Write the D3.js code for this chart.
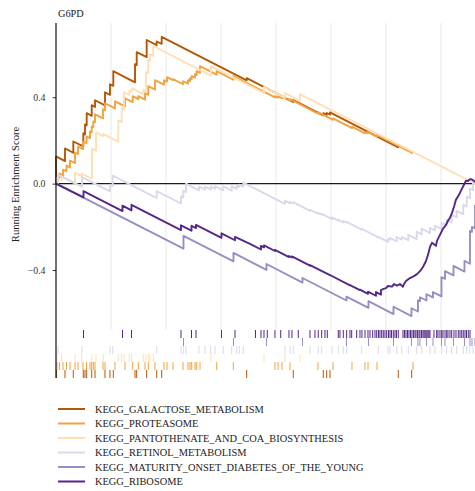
<!DOCTYPE html>
<html>
<head>
<meta charset="utf-8">
<script src="https://cdn.jsdelivr.net/npm/d3@7"></script>
<style>
  html, body { margin: 0; padding: 0; background: #fff; overflow: hidden; }
  svg { display: block; font-family: "Liberation Serif", "Times New Roman", serif; }
</style>
</head>
<body>
<svg id="chart" width="475" height="491"></svg>
<script>
// ---- data -------------------------------------------------------------
const plotTitle = "G6PD";
const yTitle = "Running Enrichment Score";
const geneCount = 19136;                 // length of the ranked gene list
const gridBreaks = [2500, 5000, 7500, 10000, 12500, 15000, 17500];
const yTicks = [-0.4, 0, 0.4];

const setNames = [
  "KEGG_GALACTOSE_METABOLISM",
  "KEGG_PROTEASOME",
  "KEGG_PANTOTHENATE_AND_COA_BIOSYNTHESIS",
  "KEGG_RETINOL_METABOLISM",
  "KEGG_MATURITY_ONSET_DIABETES_OF_THE_YOUNG",
  "KEGG_RIBOSOME"
];
const setColors = ["#b35806", "#f1a340", "#fee0b6", "#d8daeb", "#998ec3", "#542788"];

// running enrichment score: [rank, score before step, score after step]
const esGalactose = [
  [0,0,0.126],[409,0.104,0.163],[786,0.143,0.195],[1241,0.172,0.233],[1318,0.228,0.274],
  [1395,0.270,0.326],[1623,0.314,0.363],[1773,0.355,0.386],[2227,0.362,0.423],[2454,0.411,0.460],
  [2604,0.453,0.521],[3591,0.469,0.553],[3668,0.549,0.609],[4122,0.586,0.665],[4577,0.641,0.658],
  [4804,0.647,0.679],[8667,0.478,0.488],[10785,0.378,0.387],[12149,0.316,0.326],[12303,0.318,0.327],
  [12453,0.320,0.330],[15558,0.168,0.179],[16167,0.147,0.153]
];
const esProteasome = [
  [0,0,0],[45,0,0.028],[159,0.022,0.047],[318,0.038,0.065],[477,0.057,0.084],[636,0.075,0.107],
  [864,0.095,0.144],[1000,0.137,0.172],[1227,0.160,0.195],[1386,0.187,0.219],[1545,0.210,0.242],
  [1623,0.238,0.265],[1695,0.261,0.288],[1773,0.284,0.321],[2136,0.302,0.344],[2227,0.340,0.372],
  [2682,0.348,0.381],[3136,0.358,0.395],[3486,0.377,0.405],[3741,0.391,0.405],[4045,0.389,0.419],
  [4195,0.411,0.451],[4500,0.435,0.479],[4909,0.458,0.479],[5045,0.472,0.493],[5318,0.479,0.484],
  [5773,0.460,0.474],[6000,0.463,0.479],[6091,0.474,0.488],[6168,0.484,0.498],[6318,0.490,0.507],
  [6395,0.503,0.521],[6545,0.513,0.544],[7304,0.505,0.521],[8059,0.481,0.498],[9954,0.399,0.405],
  [10091,0.398,0.405],[10273,0.395,0.402],[10636,0.383,0.391],[11909,0.324,0.331],[12591,0.295,0.302],
  [13454,0.257,0.264],[14045,0.233,0.240],[14182,0.233,0.240],[14591,0.219,0.226],[16227,0.140,0.140]
];
const esPantothenate = [
  [0,0,0],[45,0,0.028],[259,0.017,0.033],[864,0.001,0.051],[1168,0.035,0.047],[1636,0.022,0.163],
  [1818,0.153,0.237],[2150,0.220,0.230],[2832,0.194,0.293],[2986,0.285,0.349],[3091,0.343,0.423],
  [3331,0.411,0.430],[3441,0.425,0.442],[3968,0.414,0.433],[4091,0.426,0.516],[4195,0.511,0.572],
  [4272,0.568,0.600],[4422,0.592,0.637],[7045,0.500,0.544],[9454,0.419,0.447],[10408,0.397,0.419],
  [11090,0.383,0.414],[19045,0,0]
];
const esRetinol = [
  [0,0,0],[91,0,0.042],[1182,-0.015,0.030],[2454,-0.036,-0.005],[2577,-0.011,0.037],
  [4577,-0.067,-0.035],[5681,-0.092,-0.058],[5786,-0.064,-0.033],[5909,-0.039,0],[6500,-0.031,-0.014],
  [6772,-0.028,-0.014],[7031,-0.027,-0.014],[7227,-0.024,-0.012],[7604,-0.031,-0.012],[7986,-0.032,-0.012],
  [8213,-0.024,-0.009],[8331,-0.015,-0.005],[8513,-0.014,0.005],[10408,-0.094,-0.079],[10636,-0.091,-0.084],
  [10785,-0.092,-0.086],[11545,-0.126,-0.121],[11922,-0.140,-0.135],[12076,-0.144,-0.140],[12545,-0.164,-0.156],
  [12831,-0.171,-0.167],[13058,-0.180,-0.172],[13212,-0.180,-0.177],[13894,-0.213,-0.209],[14649,-0.249,-0.247],
  [15090,-0.270,-0.256],[15181,-0.260,-0.251],[15486,-0.267,-0.247],[15713,-0.259,-0.247],[16013,-0.262,-0.237],
  [16395,-0.257,-0.223],[16622,-0.235,-0.209],[16999,-0.229,-0.205],[17226,-0.217,-0.195],[17531,-0.211,-0.181],
  [17758,-0.193,-0.167],[17985,-0.180,-0.144],[18212,-0.156,-0.126],[18512,-0.141,-0.098],[18667,-0.106,-0.060],
  [18817,-0.068,-0.023],[18954,-0.030,0.009],[19136,0,0]
];
const esMaturity = [
  [0,0,0],[5795,-0.301,-0.242],[8067,-0.360,-0.321],[9567,-0.399,-0.372],[11204,-0.458,-0.437],
  [13203,-0.541,-0.523],[14203,-0.575,-0.544],[15340,-0.604,-0.570],[16158,-0.613,-0.577],[16453,-0.592,-0.540],
  [16544,-0.544,-0.526],[16840,-0.541,-0.512],[17135,-0.527,-0.502],[17521,-0.522,-0.433],[17681,-0.441,-0.405],
  [18067,-0.425,-0.381],[18567,-0.407,-0.358],[18817,-0.371,-0.219],[18908,-0.223,-0.200],[19045,-0.207,-0.102],
  [19136,-0.107,0]
];
const esRibosome = [
  [0,0,0],[1250,-0.064,-0.035],[3022,-0.127,-0.102],[3431,-0.124,-0.098],[5681,-0.215,-0.193],
  [6159,-0.218,-0.195],[6363,-0.206,-0.191],[7522,-0.251,-0.230],[8136,-0.262,-0.247],[8818,-0.279,-0.279],
  [9317,-0.305,-0.288],[9454,-0.295,-0.286],[9954,-0.312,-0.307],[10590,-0.340,-0.335],[10726,-0.342,-0.337],
  [11544,-0.380,-0.377],[12453,-0.424,-0.423],[13362,-0.471,-0.470],[13817,-0.493,-0.491],[14180,-0.510,-0.500],
  [14544,-0.519,-0.502],[14771,-0.514,-0.493],[14862,-0.488,-0.488],[14999,-0.484,-0.484],[15090,-0.474,-0.474],
  [15271,-0.477,-0.477],[15362,-0.465,-0.465],[15498,-0.472,-0.472],[15635,-0.465,-0.465],[15771,-0.477,-0.477],
  [15817,-0.465,-0.465],[15908,-0.451,-0.451],[16089,-0.437,-0.437],[16271,-0.428,-0.428],[16407,-0.419,-0.419],
  [16544,-0.405,-0.405],[16680,-0.386,-0.386],[16817,-0.358,-0.358],[16908,-0.330,-0.330],[16999,-0.293,-0.293],
  [17090,-0.274,-0.274],[17271,-0.288,-0.288],[17317,-0.265,-0.265],[17453,-0.237,-0.237],[17590,-0.209,-0.209],
  [17726,-0.191,-0.191],[17817,-0.172,-0.172],[17908,-0.158,-0.158],[17999,-0.135,-0.135],[18090,-0.107,-0.107],
  [18181,-0.074,-0.074],[18272,-0.060,-0.060],[18363,-0.042,-0.042],[18453,-0.023,-0.023],[18544,-0.005,-0.005],
  [18635,0.014,0.014],[18726,0.012,0.012],[18817,0.021,0.021],[18908,0.019,0.019],[19045,0.009,0.009],[19136,0,0]
];

// ranks of the member genes of each set (rug)
const hitsGalactose = [20,409,786,1241,1318,1395,1623,1773,2227,2454,2604,3591,3668,4122,4577,4804,8667,
  10785,12149,12303,12453,15558,16167];
const hitsProteasome = [45,159,318,477,636,864,1000,1227,1386,1545,1623,1695,1773,2136,2227,2682,3136,3486,
  3741,4045,4195,4500,4909,5045,5318,5773,6000,6091,6168,6318,6395,6545,7304,8059,9954,10091,10273,10636,
  11909,12591,13454,14045,14182,14591,16227];
const hitsPantothenate = [45,259,864,1168,1636,1818,2150,2832,2986,3091,3331,3441,3968,4091,4195,4272,4422,
  7045,9454,10408,11090];
const hitsRetinol = [91,1182,2454,2577,4577,5681,5786,5909,6500,6772,7031,7227,7604,7986,8213,8331,8513,
  10408,10636,10785,11545,11922,12076,12545,12831,13058,13212,13894,14649,15090,15181,15486,15713,16013,
  16395,16622,16999,17226,17531,17758,17985,18212,18512,18667,18817,18954];
const hitsMaturity = [5795,8067,9567,11204,13203,14203,15340,16158,16453,16544,16840,17135,17521,17681,
  18067,18567,18817,18908,19045];
const hitsRibosome = [1250,3022,3431,5681,6159,6363,7522,8136,9067,9317,9454,9604,9954,10213,10590,10726,
  11013,11544,11771,11922,12076,12226,12331,12831,12908,13058,13212,13362,13440,13667,13817,13908,14045,
  14180,14271,14394,14499,14576,14658,14726,14803,14876,14953,15030,15112,15181,15249,15331,15408,15476,
  15558,15771,15839,15908,15976,16044,16112,16180,16248,16317,16362,16430,16498,16544,16612,16680,16726,
  16771,16817,16862,16908,16953,16999,17180,17303,17362,17453,17530,17590,17681,17758,17817,17908,17985,
  18090,18181,18285,18363,18440,18512,18590,18658,18740,18817];

// ---- layout -----------------------------------------------------------
const series = [
  { name: setNames[0], color: setColors[0], es: esGalactose,    hits: hitsGalactose },
  { name: setNames[1], color: setColors[1], es: esProteasome,   hits: hitsProteasome },
  { name: setNames[2], color: setColors[2], es: esPantothenate, hits: hitsPantothenate },
  { name: setNames[3], color: setColors[3], es: esRetinol,      hits: hitsRetinol },
  { name: setNames[4], color: setColors[4], es: esMaturity,     hits: hitsMaturity },
  { name: setNames[5], color: setColors[5], es: esRibosome,     hits: hitsRibosome }
];

const panel = { left: 56, right: 477, top: 23, bottom: 330, rugBottom: 378 };
const fontFamily = '"Liberation Serif", "Times New Roman", serif';

const svg = d3.select("#chart");
svg.append("rect").attr("width", 475).attr("height", 491).attr("fill", "#fff");

const x = d3.scaleLinear().domain([0, geneCount]).range([panel.left, panel.right]);
const allScores = series.flatMap(s => s.es.flatMap(d => [d[1], d[2]]));
const [lo, hi] = d3.extent(allScores);
const pad = (hi - lo) * 0.05;
const y = d3.scaleLinear().domain([lo - pad, hi + pad]).range([panel.bottom, panel.top]);

// vertical grid
svg.append("g").selectAll("line").data(gridBreaks).join("line")
  .attr("x1", d => x(d)).attr("x2", d => x(d))
  .attr("y1", panel.top).attr("y2", panel.bottom)
  .attr("stroke", "#ebebeb").attr("stroke-width", 1.1);

// zero reference line
svg.append("line")
  .attr("x1", x(0)).attr("x2", x(geneCount))
  .attr("y1", y(0)).attr("y2", y(0))
  .attr("stroke", "#1a1a1a").attr("stroke-width", 1.3);

// running score curves
const line = d3.line().x(d => x(d[0])).y(d => y(d[1]));
series.forEach(s => {
  const pts = s.es.flatMap(d => d[1] === d[2] ? [[d[0], d[1]]] : [[d[0], d[1]], [d[0], d[2]]]);
  svg.append("path")
    .attr("d", line(pts))
    .attr("fill", "none")
    .attr("stroke", s.color)
    .attr("stroke-width", 1.9)
    .attr("stroke-linejoin", "round");
});

// rug of gene-set members, first set at the bottom
const rowH = (panel.rugBottom - panel.bottom) / series.length;
series.forEach((s, i) => {
  const y1 = panel.rugBottom - rowH * (i + 1);
  const y2 = panel.rugBottom - rowH * i;
  svg.append("g").selectAll("line").data(s.hits).join("line")
    .attr("x1", d => x(d)).attr("x2", d => x(d))
    .attr("y1", y1).attr("y2", y2)
    .attr("stroke", s.color).attr("stroke-width", 1);
});

// y axis
const yAxis = d3.axisLeft(y).tickValues(yTicks).tickSize(3.5).tickPadding(7)
  .tickFormat(d3.format(".1f"));
const gAxis = svg.append("g").attr("transform", `translate(${panel.left},0)`).call(yAxis);
gAxis.select(".domain").remove();
gAxis.selectAll(".tick line").attr("stroke", "#333").attr("stroke-width", 1);
gAxis.selectAll(".tick text")
  .attr("fill", "#333").attr("font-size", 9.8).attr("font-family", fontFamily);

svg.append("line")
  .attr("x1", panel.left).attr("x2", panel.left)
  .attr("y1", panel.top).attr("y2", panel.rugBottom)
  .attr("stroke", "#111").attr("stroke-width", 1.2);

// titles
svg.append("text")
  .attr("x", 58).attr("y", 16.5)
  .attr("font-size", 10.3).attr("fill", "#222").attr("font-family", fontFamily)
  .text(plotTitle);

svg.append("text")
  .attr("transform", `translate(18.5,${(panel.top + panel.bottom) / 2 + 8}) rotate(-90)`)
  .attr("text-anchor", "middle")
  .attr("font-size", 10.6).attr("fill", "#222").attr("font-family", fontFamily)
  .text(yTitle);

// legend
const legend = svg.append("g");
series.forEach((s, i) => {
  const ly = 409 + i * 14.5;
  legend.append("line")
    .attr("x1", 58).attr("x2", 85).attr("y1", ly).attr("y2", ly)
    .attr("stroke", s.color).attr("stroke-width", 2);
  legend.append("text")
    .attr("x", 95).attr("y", ly + 3.6)
    .attr("font-size", 10.4).attr("fill", "#222").attr("font-family", fontFamily)
    .text(s.name);
});
</script>
</body>
</html>
